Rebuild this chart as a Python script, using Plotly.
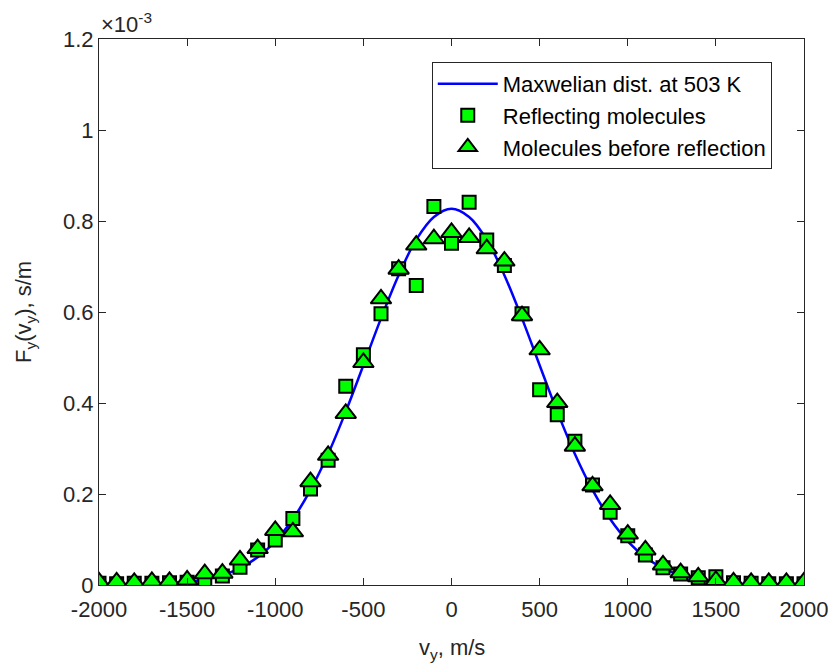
import plotly.graph_objects as go

# velocity grid (m/s)
v_points = list(range(-2000, 2001, 100))

# Maxwellian curve values (x1e-3 s/m)
curve_v = list(range(-2000, 2001, 100))
curve_half = [0.827, 0.809, 0.759, 0.681, 0.586, 0.483, 0.381, 0.288, 0.209, 0.145,
              0.0961, 0.0612, 0.0373, 0.0218, 0.0122, 0.0065, 0.0034, 0.0016, 0.0008, 0.0004, 0.0002]
curve_f = curve_half[::-1] + curve_half[1:]

# Reflecting molecules (x1e-3 s/m)
reflecting = [0.004, 0.003, 0.004, 0.004, 0.005, 0.006, 0.008, 0.020, 0.039, 0.077,
              0.099, 0.146, 0.211, 0.274, 0.437, 0.506, 0.596, 0.695, 0.658, 0.832,
              0.751, 0.841, 0.758, 0.702, 0.596, 0.429, 0.374, 0.316, 0.220, 0.160,
              0.108, 0.066, 0.038, 0.024, 0.016, 0.018, 0.005, 0.004, 0.003, 0.003, 0.003]

# Molecules before reflection (x1e-3 s/m)
before = [0.007, 0.007, 0.006, 0.008, 0.008, 0.011, 0.025, 0.026, 0.055, 0.080,
          0.120, 0.117, 0.227, 0.285, 0.377, 0.489, 0.629, 0.694, 0.747, 0.761,
          0.775, 0.764, 0.739, 0.712, 0.592, 0.517, 0.401, 0.305, 0.218, 0.177,
          0.112, 0.077, 0.044, 0.027, 0.018, 0.010, 0.007, 0.006, 0.006, 0.006, 0.007]

x_ticks = list(range(-2000, 2001, 500))
x_ticktext = [str(t) for t in x_ticks]
y_ticks = [0, 0.2, 0.4, 0.6, 0.8, 1.0, 1.2]
y_ticktext = ["0", "0.2", "0.4", "0.6", "0.8", "1", "1.2"]

FONT = "Liberation Sans, Arial, sans-serif"
DARK = "#262626"
FS = 22

fig = go.Figure()
fig.add_trace(go.Scatter(x=curve_v, y=curve_f, mode="lines", line=dict(color="#0000FF", width=2.5, shape="spline"),
                         name="Maxwelian dist. at 503 K"))
fig.add_trace(go.Scatter(x=v_points, y=reflecting, mode="markers",
                         marker=dict(symbol="square", size=13, color="#00FF00", line=dict(color="black", width=2)),
                         name="Reflecting molecules"))
fig.add_trace(go.Scatter(x=v_points, y=before, mode="markers",
                         marker=dict(symbol="triangle-up", size=18, color="#00FF00", line=dict(color="black", width=2)),
                         name="Molecules before reflection"))

axis_common = dict(showline=True, linecolor=DARK, linewidth=1, mirror="ticks", ticks="inside", ticklen=7,
                   tickcolor=DARK, showgrid=False, zeroline=False, automargin=False,
                   tickfont=dict(family=FONT, size=FS, color=DARK))

fig.update_xaxes(range=[-2000, 2000], tickvals=x_ticks, ticktext=x_ticktext, ticklabelstandoff=5,
                 ticklabeloverflow="allow", **axis_common)
fig.update_yaxes(range=[0, 1.2], tickvals=y_ticks, ticktext=y_ticktext, **axis_common)

fig.update_layout(
    width=830, height=668,
    margin=dict(l=99, r=26, t=39, b=83, autoexpand=False),
    plot_bgcolor="white", paper_bgcolor="white",
    font=dict(family=FONT, size=FS, color=DARK),
    legend=dict(x=0.472, y=0.958, xanchor="left", yanchor="top",
                bgcolor="white", bordercolor=DARK, borderwidth=1,
                font=dict(family=FONT, size=FS, color="black"),
                itemwidth=60, tracegroupgap=0),
    annotations=[
        dict(text="×10<sup>-3</sup>", x=0, y=1, xref="paper", yref="paper", xanchor="left", yanchor="bottom",
             xshift=0, yshift=0, showarrow=False, font=dict(family=FONT, size=FS, color=DARK)),
        dict(text="v<sub>y</sub>, m/s", x=0.5, y=0, xref="paper", yref="paper", xanchor="center", yanchor="top",
             yshift=-48, showarrow=False, font=dict(family=FONT, size=FS, color=DARK)),
        dict(text="F<sub>y</sub>(v<sub>y</sub>), s/m", x=0, y=0.5, xref="paper", yref="paper", xanchor="center",
             yanchor="middle", xshift=-74, textangle=-90, showarrow=False,
             font=dict(family=FONT, size=FS, color=DARK)),
    ],
)

fig.write_html("out.html")
